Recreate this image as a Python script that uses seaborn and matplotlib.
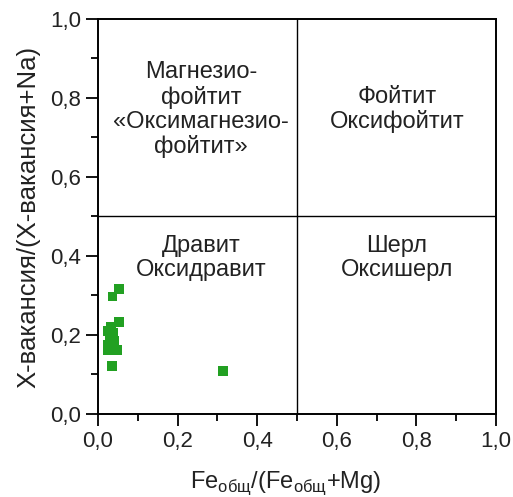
import matplotlib
matplotlib.use("Agg")
import matplotlib.pyplot as plt
import seaborn as sns
import pandas as pd
from matplotlib.ticker import MultipleLocator

fe_ratio = [0.053, 0.036, 0.053, 0.033, 0.025, 0.038, 0.030, 0.040, 0.025, 0.035, 0.048, 0.025, 0.035, 0.314]
x_vac = [0.316, 0.297, 0.233, 0.220, 0.210, 0.205, 0.195, 0.185, 0.175, 0.167, 0.162, 0.162, 0.122, 0.109]

tick_vals = [0.0, 0.2, 0.4, 0.6, 0.8, 1.0]
tick_labels = ["0,0", "0,2", "0,4", "0,6", "0,8", "1,0"]

field_labels = ["Магнезио-\nфойтит\n«Оксимагнезио-\nфойтит»", "Фойтит\nОксифойтит",
                "Дравит\nОксидравит", "Шерл\nОксишерл"]
field_x = [0.259, 0.751, 0.259, 0.751]
field_y = [0.77, 0.77, 0.395, 0.395]

sns.set_style("ticks")
plt.rcParams['font.family'] = ['Liberation Sans', 'DejaVu Sans']
plt.rcParams['mathtext.fontset'] = 'custom'
plt.rcParams['mathtext.rm'] = 'Liberation Sans'

fig = plt.figure(figsize=(5.13, 4.97), dpi=100)
ax = fig.add_axes([0.191, 0.167, 0.776, 0.795])

df = pd.DataFrame({"x": fe_ratio, "y": x_vac})
sns.scatterplot(data=df, x="x", y="y", marker="s", s=48, color="#22a022",
                edgecolor="none", linewidth=0, ax=ax, zorder=3)

ax.axvline(0.5, color="black", lw=1.0)
ax.axhline(0.5, color="black", lw=1.0)

for lab, tx, ty in zip(field_labels, field_x, field_y):
    ax.text(tx, ty, lab, ha="center", va="center", fontsize=17,
            color="#222222", linespacing=1.13)

ax.set_xlim(0, 1)
ax.set_ylim(0, 1)
ax.set_xticks(tick_vals)
ax.set_xticklabels(tick_labels)
ax.set_yticks(tick_vals)
ax.set_yticklabels(tick_labels)
ax.xaxis.set_minor_locator(MultipleLocator(0.1))
ax.yaxis.set_minor_locator(MultipleLocator(0.1))
ax.tick_params(which="major", direction="out", length=8.5, width=1.3, labelsize=16, colors="black", labelcolor="#222222")
ax.tick_params(which="minor", direction="out", length=5, width=1.3, colors="black")

for sp in ax.spines.values():
    sp.set_visible(True)
    sp.set_linewidth(1.4)
    sp.set_color("black")

ax.set_xlabel(r"Fe$_{\mathregular{общ}}$/(Fe$_{\mathregular{общ}}$+Mg)", fontsize=17, color="#222222")
ax.xaxis.set_label_coords(0.472, -0.14)
ax.set_ylabel("X-вакансия/(X-вакансия+Na)", fontsize=18.5, color="#222222", labelpad=7)

fig.savefig("out.png", dpi=100)
